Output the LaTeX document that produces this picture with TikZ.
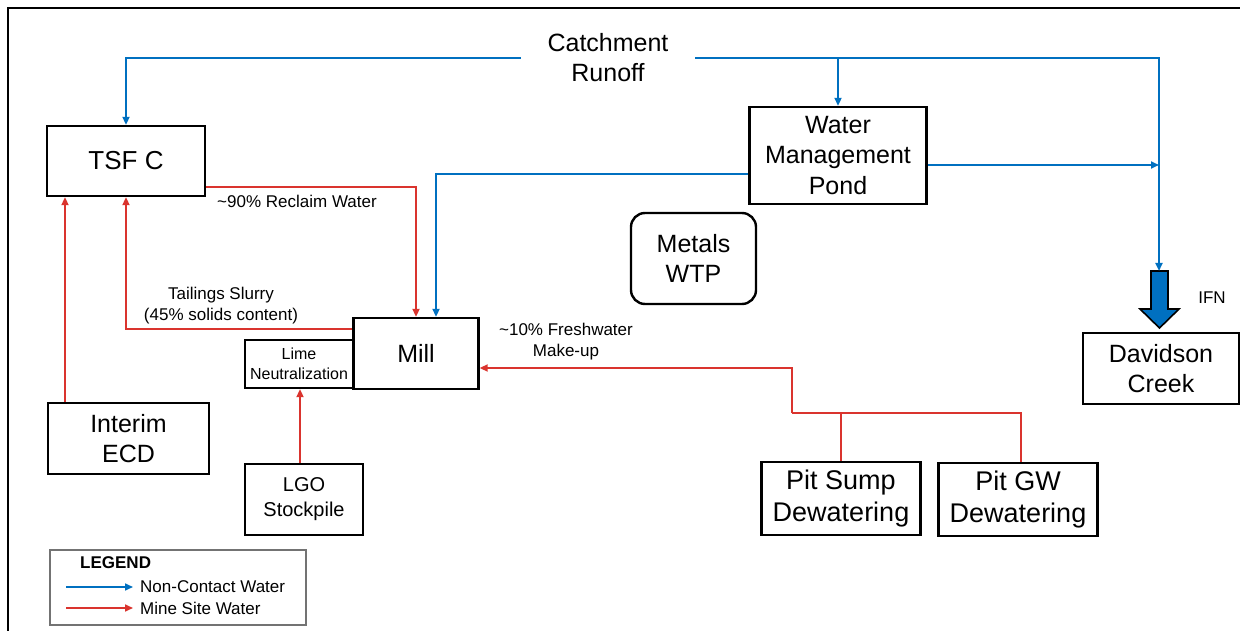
\documentclass[tikz,border=0pt]{standalone}
\usepackage{fontspec}
\setmainfont{Liberation Sans}
\usetikzlibrary{arrows.meta}
\definecolor{ncblue}{RGB}{0,112,192}
\definecolor{msred}{RGB}{218,52,46}
\begin{document}
\begin{tikzpicture}[x=1pt,y=-1pt,
  box/.style={draw=black,line width=2.4pt,inner sep=0pt,align=center,font=\fontsize{25}{30.5}\selectfont},
  smallbox/.style={draw=black,line width=2.4pt,inner sep=0pt,align=center},
  lbl/.style={inner sep=0pt,align=center,font=\fontsize{17}{21}\selectfont},
  blueflow/.style={draw=ncblue,line width=2pt,-{Triangle[length=8pt,width=7pt]}},
  redflow/.style={draw=msred,line width=2pt,-{Triangle[length=8pt,width=7pt]}},
  redline/.style={draw=msred,line width=2pt},
  blueline/.style={draw=ncblue,line width=2pt}]
\useasboundingbox (0,0) rectangle (1240,631);
% frame
\draw[line width=2pt] (8,631) -- (8,8) -- (1240,8);

% nodes
\node[box,minimum width=158pt,minimum height=70pt,font=\fontsize{26}{30}\selectfont] (tsf) at (126,161) {TSF C};
\node[box,minimum width=177pt,minimum height=97pt] (wmp) at (838,155.5) {Water\\Management\\Pond};
\node[box,rounded corners=14pt,minimum width=125pt,minimum height=91pt] (wtp) at (693.5,258.5) {Metals\\WTP};
\node[box,minimum width=125pt,minimum height=71pt] (mill) at (416,353.5) {Mill};
\node[smallbox,minimum width=108pt,minimum height=48pt,font=\fontsize{16}{20}\selectfont] (lime) at (299,364) {Lime\\Neutralization};
\node[box,minimum width=161pt,minimum height=71pt] (ecd) at (128.5,438.5) {Interim\\ECD};
\node[smallbox,minimum width=118pt,minimum height=71pt,font=\fontsize{20}{25}\selectfont] (lgo) at (304,499.5) {LGO\\Stockpile};
\node[box,minimum width=159pt,minimum height=73pt,font=\fontsize{27}{32}\selectfont] (sump) at (841,498.5) {Pit Sump\\Dewatering};
\node[box,minimum width=159pt,minimum height=73pt,font=\fontsize{27}{32}\selectfont] (gw) at (1018,499.5) {Pit GW\\Dewatering};
\node[box,minimum width=156pt,minimum height=71pt] (dav) at (1161,368.5) {Davidson\\Creek};
\node[inner sep=0pt,minimum width=174pt,align=center,font=\fontsize{25}{30}\selectfont] (catch) at (608,58) {Catchment\\Runoff};

% big IFN arrow
\coordinate (ifntop) at (1159,271);
\draw[black,line width=1.6pt,fill=ncblue,line join=miter]
  (1151,271) -- (1168,271) -- (1168,309) -- (1179,309) -- (1159.5,328) -- (1140,309) -- (1151,309) -- cycle;
\node[lbl] (ifn) at (1212,298) {IFN};

% blue flows
\draw[blueflow] (catch.west) -| (tsf.north);
\draw[blueflow] (catch.east) -| (ifntop);
\draw[blueflow] (wmp.north |- catch.east) -- (wmp.north);
\coordinate (j1) at (1159,165);
\draw[blueflow] ([yshift=-9.5pt]wmp.east) -- (j1);
\draw[blueflow] ([yshift=-18.5pt]wmp.west) -| ([xshift=20pt]mill.north);

% red flows
\draw[redflow] ([yshift=-26pt]tsf.east) -| (mill.north);
\node[lbl] (reclaim) at (297,201) {\textasciitilde90\% Reclaim Water};
\draw[redflow] ([yshift=24.5pt]mill.west) -| (tsf.south);
\node[lbl] (tail) at (221,306) {Tailings Slurry\\(45\% solids content)};
\draw[redflow] ([xshift=-63.5pt]ecd.north) -- ([xshift=-63.5pt]ecd.north |- tsf.south);
\draw[redflow] ([xshift=-4pt]lgo.north) -- ([xshift=-4pt]lgo.north |- lime.south);
\coordinate (fw) at (792,413);
\draw[redline] (sump.north) -- (sump.north |- fw);
\draw[redline] ([xshift=3pt]gw.north) |- (fw);
\draw[redflow] (fw) |- ([yshift=-14.5pt]mill.east);
\node[lbl] (fresh) at (566,342) {\textasciitilde10\% Freshwater\\Make-up};

% legend
\node[draw=black!55,line width=1.2pt,minimum width=256pt,minimum height=75pt,inner sep=0pt] (legend) at (178,587.5) {};
\node[lbl,anchor=west,font=\bfseries\fontsize{17}{21}\selectfont] (legtitle) at (80,563) {LEGEND};
\coordinate (lb1) at (66,587);
\coordinate (lb2) at (133,587);
\coordinate (lr1) at (66,608);
\coordinate (lr2) at (133,608);
\draw[blueflow,line width=1.6pt] (lb1) -- (lb2);
\draw[redflow,line width=1.6pt] (lr1) -- (lr2);
\node[lbl,anchor=west] (legnc) at (140,587) {Non-Contact Water};
\node[lbl,anchor=west] (legms) at (140,608) {Mine Site Water};
\end{tikzpicture}
\end{document}
